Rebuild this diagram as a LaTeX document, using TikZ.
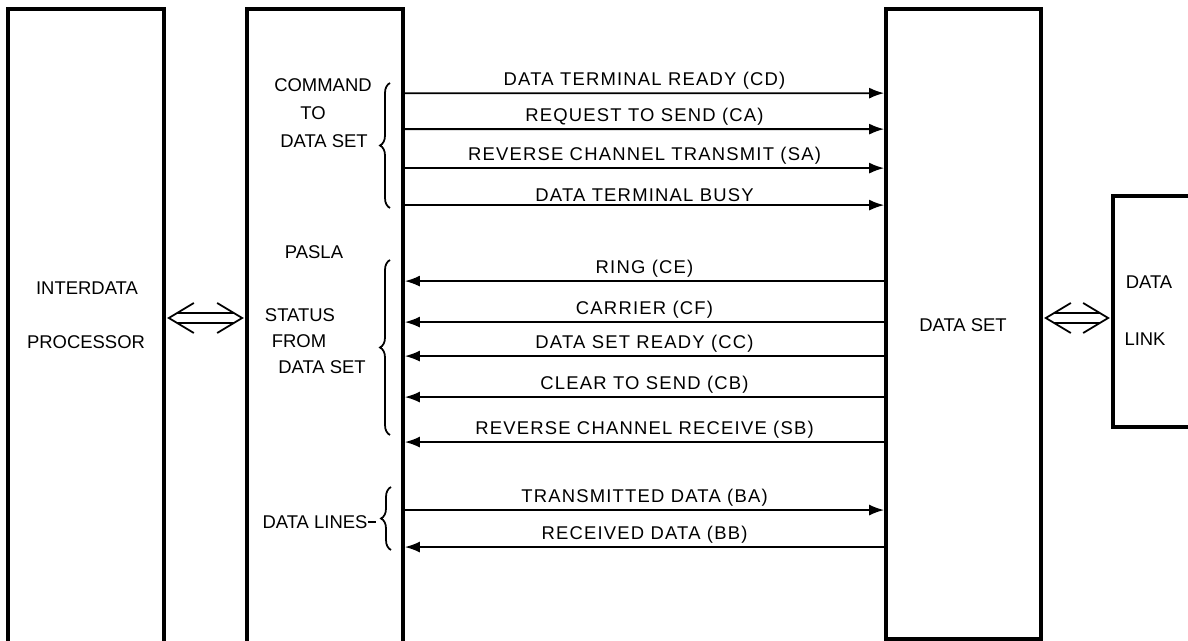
\documentclass[tikz,border=0pt]{standalone}
\usepackage{fontspec}
\setmainfont{Liberation Sans}
\newfontfamily\sigfont{Liberation Sans}[LetterSpace=6.5]
\usepackage{tikz}
\usetikzlibrary{arrows.meta, positioning, calc, fit, decorations.pathreplacing}
\tikzset{unit/.style={rectangle,draw,line width=2.1pt,inner sep=0pt},
         txt/.style={font=\fontsize{10.5}{12}\selectfont,inner sep=0pt},
         siglabel/.style={font=\sigfont\fontsize{10.5}{12}\selectfont,above,inner sep=1.5pt},
         sendarrow/.style={-{Latex[length=3mm,width=2.2mm]},line width=1pt},
         recvarrow/.style={{Latex[length=3mm,width=2.2mm]}-,line width=1pt},
         group/.style={decorate,decoration={brace,amplitude=2mm},line width=1pt},
         dbl/.style={line width=1pt}}

\begin{document}
\begin{tikzpicture}[x=0.02cm,y=-0.02cm]
    \useasboundingbox (0,0) rectangle (1188,641);
    \clip (0,0) rectangle (1188,641);
    % Units
    \node (proc) [unit,fit={(8,9) (164,720)}] {};
    \node (pasla) [unit,fit={(247,9) (403,720)}] {};
    \node (dset) [unit,fit={(886,9) (1041,639)}] {};
    \node (link) [unit,fit={(1113,196) (1240,427)}] {};
    % Unit labels
    \node (procA) at (87,288) [txt]{INTERDATA};
    \node (procB) at (86,342) [txt]{PROCESSOR};
    \node (cmdA) at (323,85) [txt]{COMMAND};
    \node (cmdB) at (313,113) [txt]{TO};
    \node (cmdC) at (324,141) [txt]{DATA SET};
    \node (paslaname) at (314,252) [txt]{PASLA};
    \node (statA) at (300,315) [txt]{STATUS};
    \node (statB) at (299,341) [txt]{FROM};
    \node (statC) at (322,367) [txt]{DATA SET};
    \node (datalines) at (315,522) [txt]{DATA LINES};
    \node (dsetname) at (963,325) [txt]{DATA SET};
    \node (linkA) at (1149,282) [txt]{DATA};
    \node (linkB) at (1145,339) [txt]{LINK};
    % Groups
    \draw[group] (390,208) -- (390,83);
    \draw[group] (390,435) -- (390,260);
    \draw[group] (391,550) -- (391,487);
    \draw[line width=1pt] (datalines.east) -- ++(8,0);
    % Commands
    \draw[sendarrow] ([yshift=-1.72cm]pasla.north east) -- node[siglabel]{DATA TERMINAL READY (CD)} ([yshift=-1.72cm]dset.north west);
    \draw[sendarrow] ([yshift=-2.44cm]pasla.north east) -- node[siglabel]{REQUEST TO SEND (CA)} ([yshift=-2.44cm]dset.north west);
    \draw[sendarrow] ([yshift=-3.22cm]pasla.north east) -- node[siglabel]{REVERSE CHANNEL TRANSMIT (SA)} ([yshift=-3.22cm]dset.north west);
    \draw[sendarrow] ([yshift=-3.96cm]pasla.north east) -- node[siglabel]{DATA TERMINAL BUSY} ([yshift=-3.96cm]dset.north west);
    % Status
    \draw[recvarrow] ([yshift=-5.48cm]pasla.north east) -- node[siglabel]{RING (CE)} ([yshift=-5.48cm]dset.north west);
    \draw[recvarrow] ([yshift=-6.30cm]pasla.north east) -- node[siglabel]{CARRIER (CF)} ([yshift=-6.30cm]dset.north west);
    \draw[recvarrow] ([yshift=-6.98cm]pasla.north east) -- node[siglabel]{DATA SET READY (CC)} ([yshift=-6.98cm]dset.north west);
    \draw[recvarrow] ([yshift=-7.80cm]pasla.north east) -- node[siglabel]{CLEAR TO SEND (CB)} ([yshift=-7.80cm]dset.north west);
    \draw[recvarrow] ([yshift=-8.70cm]pasla.north east) -- node[siglabel]{REVERSE CHANNEL RECEIVE (SB)} ([yshift=-8.70cm]dset.north west);
    % Data
    \draw[sendarrow] ([yshift=-10.06cm]pasla.north east) -- node[siglabel]{TRANSMITTED DATA (BA)} ([yshift=-10.06cm]dset.north west);
    \draw[recvarrow] ([yshift=-10.80cm]pasla.north east) -- node[siglabel]{RECEIVED DATA (BB)} ([yshift=-10.80cm]dset.north west);
    % Links
    \coordinate (lnk) at (0,318);
    \draw[dbl] ($(proc.east |- lnk)+(28,-15)$) -- ($(proc.east |- lnk)+(3,0)$) -- ++(25,15);
    \draw[dbl] ($(pasla.west |- lnk)+(-28,-15)$) -- ($(pasla.west |- lnk)+(-3,0)$) -- ++(-25,15);
    \draw[dbl] ($(proc.east |- lnk)+(11,-5)$) -- ($(pasla.west |- lnk)+(-11,-5)$);
    \draw[dbl] ($(proc.east |- lnk)+(11,5)$) -- ($(pasla.west |- lnk)+(-11,5)$);
    \draw[dbl] ($(dset.east |- lnk)+(28,-15)$) -- ($(dset.east |- lnk)+(3,0)$) -- ++(25,15);
    \draw[dbl] ($(link.west |- lnk)+(-28,-15)$) -- ($(link.west |- lnk)+(-3,0)$) -- ++(-25,15);
    \draw[dbl] ($(dset.east |- lnk)+(11,-5)$) -- ($(link.west |- lnk)+(-11,-5)$);
    \draw[dbl] ($(dset.east |- lnk)+(11,5)$) -- ($(link.west |- lnk)+(-11,5)$);
\end{tikzpicture}
\end{document}
